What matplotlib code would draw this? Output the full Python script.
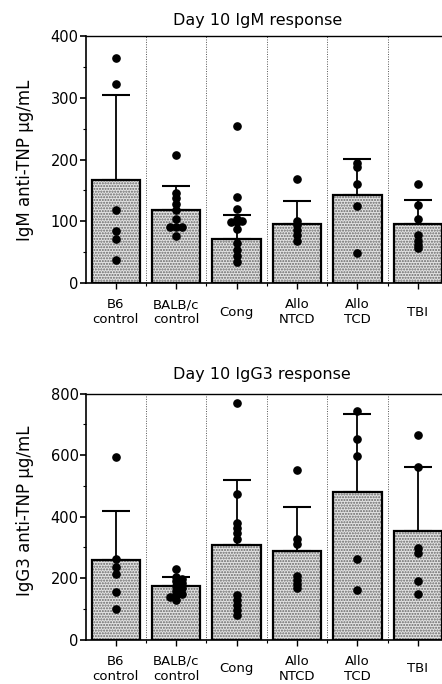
import numpy as np
import matplotlib
matplotlib.use("Agg")
import matplotlib.pyplot as plt
from matplotlib.ticker import MultipleLocator

# groups on the x axis
groups = ["B6\ncontrol", "BALB/c\ncontrol", "Cong", "Allo\nNTCD", "Allo\nTCD", "TBI"]

# Day 10 IgM (ug/mL): bar = mean, error = upper end of SD bar
igm_mean = [166, 119, 71, 96, 142, 96]
igm_err_top = [305, 157, 110, 132, 201, 134]
igm_b6 = [364, 322, 119, 85, 71, 37]
igm_balb = [208, 146, 138, 128, 118, 104, 90, 90, 90, 76]
igm_cong = [254, 139, 120, 104, 100, 99, 98, 87, 64, 53, 43, 34]
igm_ntcd = [168, 101, 94, 86, 78, 68]
igm_tcd = [194, 188, 160, 125, 49]
igm_tbi = [160, 126, 103, 78, 68, 62, 56]

# Day 10 IgG3 (ug/mL)
igg3_mean = [258, 176, 307, 289, 481, 355]
igg3_err_top = [418, 203, 519, 433, 735, 561]
igg3_b6 = [595, 263, 237, 214, 156, 99]
igg3_balb = [230, 203, 197, 190, 183, 175, 167, 160, 150, 145, 140, 130]
igg3_cong = [770, 474, 378, 362, 346, 327, 145, 129, 113, 96, 80]
igg3_ntcd = [552, 326, 311, 207, 194, 181, 167]
igg3_tcd = [743, 654, 597, 263, 163]
igg3_tbi = [665, 561, 297, 281, 192, 149]

W, H = 442, 684
fig = plt.figure(figsize=(W / 100, H / 100), dpi=100)
FONT = "DejaVu Sans"
plt.rcParams["font.family"] = FONT


def spread(vals, ymax, ax_h_px, col_px=60.4, dot_px=7.0, close_px=3.5):
    # nudge points sideways when they sit on top of each other
    px_per_unit = ax_h_px / ymax
    placed = []
    xs = []
    for v in vals:
        for k in [0, 1, -1, 2, -2, 3, -3]:
            dx = k * dot_px * 0.85 / col_px
            ok = True
            for (px, pv) in placed:
                if abs(px - dx) * col_px < dot_px * 0.8 and abs(pv - v) * px_per_unit < close_px:
                    ok = False
                    break
            if ok:
                break
        placed.append((dx, v))
        xs.append(dx)
    return xs


def panel(ax, means, tops, pts, ymax, major, minor, ax_h_px):
    x = np.arange(len(groups))
    # stippled fill
    ax.bar(x, means, width=0.8, color="#e3e3e3", edgecolor="#666666",
           hatch="......", linewidth=0, zorder=2)
    ax.bar(x, means, width=0.8, fill=False, edgecolor="black", linewidth=1.6, zorder=3)
    # the error bar goes up from the bar top, cap at the top only
    ax.errorbar(x, tops, yerr=[np.array(tops) - np.array(means), np.zeros(len(x))],
                fmt="none", ecolor="black", elinewidth=1.3, capsize=10, capthick=1.5,
                zorder=4)
    for i, vals in enumerate(pts):
        dx = spread(vals, ymax, ax_h_px)
        ax.plot(i + np.array(dx), vals, "o", color="black", markersize=5.2,
                zorder=5, clip_on=False)
    for b in np.arange(0.5, len(groups) - 0.5, 1):
        ax.axvline(b, color="#555555", linestyle=(0, (1, 1.5)), linewidth=0.7, zorder=1)
    ax.set_xlim(-0.5, len(groups) - 0.5)
    ax.set_ylim(0, ymax)
    ax.yaxis.set_major_locator(MultipleLocator(major))
    ax.yaxis.set_minor_locator(MultipleLocator(minor))
    ax.set_xticks(x)
    ax.set_xticks(np.arange(0.5, len(groups) - 0.5, 1), minor=True)
    ax.set_xticklabels(groups, va="center", fontsize=9.5, linespacing=1.2)
    ax.tick_params(axis="x", which="major", length=4, pad=17, width=1)
    ax.tick_params(axis="x", which="minor", length=2.5, width=0.8)
    ax.tick_params(axis="y", which="major", length=4, pad=1, width=1.2, labelsize=10.5)
    ax.tick_params(axis="y", which="minor", length=2.5, width=0.8)
    ax.spines["left"].set_linewidth(1.2)
    ax.spines["bottom"].set_linewidth(1.2)
    ax.spines["top"].set_linewidth(1.0)
    ax.spines["right"].set_visible(False)


ax1 = fig.add_axes([85.5 / W, 1 - 283 / H, 362.5 / W, 247 / H])
panel(ax1, igm_mean, igm_err_top,
      [igm_b6, igm_balb, igm_cong, igm_ntcd, igm_tcd, igm_tbi], 400, 100, 50, 247)
fig.text(258 / W, 1 - 20 / H, "Day 10 IgM response", ha="center", va="center", fontsize=11.5)
fig.text(25 / W, 1 - 160 / H, "IgM anti-TNP µg/mL", rotation=90, ha="center",
         va="center", fontsize=12)

ax2 = fig.add_axes([85.5 / W, 1 - 639.7 / H, 362.5 / W, 246 / H])
panel(ax2, igg3_mean, igg3_err_top,
      [igg3_b6, igg3_balb, igg3_cong, igg3_ntcd, igg3_tcd, igg3_tbi], 800, 200, 100, 246)
fig.text(262 / W, 1 - 375 / H, "Day 10 IgG3 response", ha="center", va="center", fontsize=11.5)
fig.text(25 / W, 1 - 511 / H, "IgG3 anti-TNP µg/mL", rotation=90, ha="center",
         va="center", fontsize=12)

fig.savefig("out.png", dpi=100)
